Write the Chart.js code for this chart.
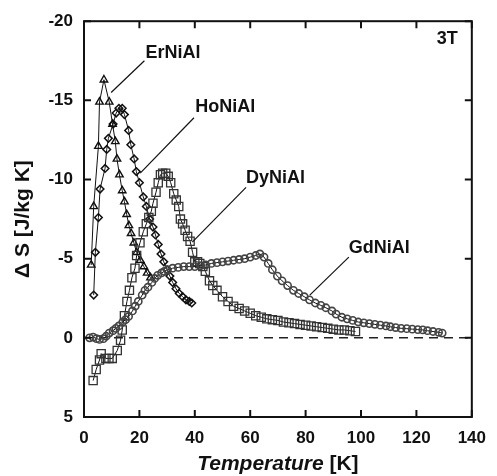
<!DOCTYPE html>
<html>
<head>
<meta charset="utf-8">
<script src="https://cdn.jsdelivr.net/npm/chart.js@4"></script>
<style>
  html, body { margin:0; padding:0; background:#fff; }
  #wrap { width:497px; height:476px; }
</style>
</head>
<body>
<div id="wrap"><canvas id="grafico" width="497" height="476"></canvas></div>
<script>
// ── Datos (T en K, ΔS en J/kg K) ───────────────────────────────────────────
const erT = [2.6, 3.5, 5.2, 5.6, 7.2, 9.1, 10.3, 11.3, 11.9, 12.8, 13.8, 14.6, 15.4, 16.2, 17.0, 18.0, 19.0, 20.3, 21.6, 22.8, 24.0];
const erS = [-4.6, -8.3, -12.1, -14.9, -16.3, -14.9, -13.5, -12.4, -11.3, -10.3, -9.3, -8.6, -7.8, -7.1, -6.6, -6.0, -5.4, -4.9, -4.5, -4.1, -3.8];

const hoT = [3.5, 4.1, 5.2, 5.8, 7.6, 8.2, 8.8, 10.5, 11.6, 12.6, 13.8, 14.6, 16.1, 16.9, 18.1, 18.9, 20.0, 21.4, 22.5, 23.7, 24.9, 25.8, 26.8, 27.8, 28.8, 30.0, 31.0, 32.0, 33.2, 34.4, 35.6, 36.8, 38.0, 38.9];
const hoS = [-2.7, -5.4, -7.6, -9.4, -10.7, -11.9, -12.6, -13.5, -14.2, -14.5, -14.5, -14.1, -13.1, -12.2, -11.3, -10.5, -9.8, -8.9, -8.3, -7.5, -7.0, -6.5, -5.9, -5.3, -4.8, -4.3, -3.9, -3.5, -3.1, -2.8, -2.6, -2.4, -2.3, -2.2];

const dyT = [3.3, 4.4, 5.6, 6.2, 7.9, 9.0, 10.2, 12.0, 13.2, 13.8, 14.6, 15.5, 16.4, 17.3, 18.4, 19.0, 20.2, 21.4, 22.5, 23.4, 24.3, 24.9, 26.0, 26.8, 27.6, 28.4, 29.5, 30.4, 31.3, 32.4, 33.3, 34.2, 34.8, 35.6, 36.5, 37.4, 38.3, 39.2, 40.0, 41.0, 41.8, 42.9, 43.8, 45.3, 46.5, 48.0, 50.0, 52.0, 54.0, 56.0, 58.0, 60.0, 62.0, 64.0, 66.0, 68.0, 70.0, 72.0, 74.0, 76.0, 78.0, 80.0, 82.0, 84.0, 86.0, 88.0, 90.0, 92.0, 94.0, 96.0, 98.0];
const dyS = [2.7, 2.0, 1.4, 1.0, 1.3, 1.3, 1.3, 0.8, 0.15, -0.5, -1.4, -2.3, -3.0, -3.8, -4.4, -5.2, -6.0, -6.7, -7.2, -7.6, -8.0, -8.5, -9.2, -9.8, -10.3, -10.4, -10.4, -10.2, -9.8, -9.1, -8.7, -8.3, -7.5, -7.2, -6.8, -6.4, -6.1, -5.4, -4.8, -4.8, -4.7, -4.5, -4.2, -3.6, -3.3, -3.0, -2.6, -2.3, -2.0, -1.85, -1.7, -1.55, -1.4, -1.3, -1.2, -1.15, -1.1, -1.0, -0.95, -0.9, -0.85, -0.8, -0.75, -0.7, -0.65, -0.6, -0.55, -0.5, -0.5, -0.45, -0.4];

const gdT = [2.0, 3.3, 4.5, 5.6, 7.0, 8.0, 9.1, 10.5, 11.5, 12.6, 14.0, 15.0, 16.1, 17.5, 18.5, 19.6, 21.0, 22.0, 23.1, 24.5, 25.5, 26.6, 28.0, 29.0, 30.1, 32.0, 34.0, 36.0, 38.0, 40.0, 42.0, 44.0, 46.0, 48.0, 50.0, 52.0, 54.0, 56.0, 58.0, 60.0, 62.0, 63.5, 65.0, 66.5, 68.0, 69.8, 71.5, 73.5, 75.6, 77.5, 79.5, 81.4, 83.5, 85.5, 87.3, 89.5, 91.0, 93.1, 95.0, 97.0, 99.0, 101.0, 103.0, 105.0, 107.0, 109.0, 110.6, 112.5, 114.5, 116.5, 118.5, 120.5, 122.3, 124.0, 126.0, 128.0, 129.3];
const gdS = [0.0, -0.05, 0.05, 0.1, 0.05, -0.1, -0.3, -0.45, -0.6, -0.75, -1.0, -1.15, -1.35, -1.7, -2.0, -2.3, -2.7, -3.0, -3.2, -3.5, -3.75, -3.95, -4.1, -4.2, -4.3, -4.4, -4.45, -4.5, -4.5, -4.5, -4.55, -4.6, -4.7, -4.75, -4.8, -4.85, -4.9, -4.95, -5.0, -5.1, -5.2, -5.3, -5.1, -4.7, -4.3, -3.9, -3.6, -3.3, -3.0, -2.8, -2.6, -2.4, -2.2, -2.05, -1.9, -1.7, -1.5, -1.3, -1.2, -1.1, -1.0, -0.95, -0.9, -0.85, -0.8, -0.75, -0.7, -0.65, -0.6, -0.58, -0.55, -0.52, -0.5, -0.45, -0.4, -0.35, -0.3];

const xTicks = [0, 20, 40, 60, 80, 100, 120, 140];
const yTicks = [-20, -15, -10, -5, 0, 5];

// etiquetas de cada curva: posición del texto y de la línea guía (en unidades de datos)
const etiquetas = [
  { texto:"ErNiAl", x:22.2, y:-18.0, desde:[21.8,-17.5], hasta:[9.8,-15.5] },
  { texto:"HoNiAl", x:40.2, y:-14.6, desde:[39.7,-13.9], hasta:[20.3,-10.4] },
  { texto:"DyNiAl", x:58.5, y:-10.1, desde:[58.5,-9.5],  hasta:[39.1,-6.05] },
  { texto:"GdNiAl", x:95.6, y:-5.7,  desde:[95.6,-5.1],  hasta:[81.5,-2.7] }
];

const FUENTE = "'Liberation Sans', Arial, sans-serif";
const puntos = (ts, ss) => ts.map((t, i) => ({ x:t, y:ss[i] }));

// ── Marco, marcas interiores, línea de cero y textos ───────────────────────
const decoracion = {
  id: "decoracion",
  beforeDatasetsDraw(chart) {
    const { ctx, chartArea:a, scales:{ y } } = chart;
    const y0 = y.getPixelForValue(0);
    ctx.save();
    ctx.strokeStyle = "#222"; ctx.lineWidth = 1.5;
    ctx.setLineDash([9, 6]);
    ctx.beginPath(); ctx.moveTo(a.left, y0); ctx.lineTo(a.right, y0); ctx.stroke();
    ctx.restore();
  },
  afterDraw(chart) {
    const { ctx, chartArea:a, scales:{ x, y } } = chart;
    ctx.save();
    ctx.strokeStyle = "#111"; ctx.lineWidth = 2;
    ctx.strokeRect(a.left, a.top, a.right - a.left, a.bottom - a.top);
    const L = 7;
    ctx.beginPath();
    xTicks.forEach(v => {
      const px = x.getPixelForValue(v);
      ctx.moveTo(px, a.bottom); ctx.lineTo(px, a.bottom - L);
      ctx.moveTo(px, a.top);    ctx.lineTo(px, a.top + L);
    });
    yTicks.forEach(v => {
      const py = y.getPixelForValue(v);
      ctx.moveTo(a.left, py);  ctx.lineTo(a.left + L, py);
      ctx.moveTo(a.right, py); ctx.lineTo(a.right - L, py);
    });
    ctx.stroke();

    // etiquetas de las curvas
    ctx.fillStyle = "#111"; ctx.lineWidth = 1.2;
    ctx.font = `bold 18px ${FUENTE}`;
    ctx.textBaseline = "middle"; ctx.textAlign = "left";
    etiquetas.forEach(e => {
      ctx.fillText(e.texto, x.getPixelForValue(e.x), y.getPixelForValue(e.y));
      ctx.beginPath();
      ctx.moveTo(x.getPixelForValue(e.desde[0]), y.getPixelForValue(e.desde[1]));
      ctx.lineTo(x.getPixelForValue(e.hasta[0]), y.getPixelForValue(e.hasta[1]));
      ctx.stroke();
    });
    ctx.fillText("3T", x.getPixelForValue(127.3), y.getPixelForValue(-18.9));

    // título eje x: "Temperature" en cursiva + " [K]"
    ctx.textBaseline = "alphabetic";
    const t1 = "Temperature", t2 = " [K]";
    ctx.font = `italic bold 21px ${FUENTE}`;
    const w1 = ctx.measureText(t1).width;
    ctx.font = `bold 21px ${FUENTE}`;
    const w2 = ctx.measureText(t2).width;
    const sx = (a.left + a.right) / 2 - (w1 + w2) / 2;
    ctx.font = `italic bold 21px ${FUENTE}`;
    ctx.fillText(t1, sx, 470);
    ctx.font = `bold 21px ${FUENTE}`;
    ctx.fillText(t2, sx + w1, 470);

    // título eje y
    ctx.font = `bold 21px ${FUENTE}`;
    ctx.translate(29, (a.top + a.bottom) / 2);
    ctx.rotate(-Math.PI / 2);
    ctx.textAlign = "center";
    ctx.fillText("\u0394 S [J/kg K]", 0, 0);
    ctx.restore();
  }
};

const serie = (label, ts, ss, estilo, radio, color, grosor) => ({
  label, data: puntos(ts, ss),
  showLine: true, borderColor: "#111", borderWidth: 1,
  pointStyle: estilo, pointRadius: radio, pointBorderColor: color,
  pointBackgroundColor: "rgba(0,0,0,0)", pointBorderWidth: grosor
});

new Chart(document.getElementById("grafico"), {
  type: "scatter",
  data: {
    datasets: [
      serie("GdNiAl", gdT, gdS, "circle",   3.6, "#444", 1.6),
      serie("DyNiAl", dyT, dyS, "rect",     5.8, "#333", 1.3),
      serie("HoNiAl", hoT, hoS, "rectRot",  3.8, "#111", 1.5),
      serie("ErNiAl", erT, erS, "triangle", 4.3, "#111", 1.4)
    ]
  },
  options: {
    responsive: false, animation: false, devicePixelRatio: 1,
    layout: { padding: { top:21, right:16, left:0, bottom:0 } },
    scales: {
      x: {
        type: "linear", min: 0, max: 140,
        grid: { display:false, drawTicks:false }, border: { display:false },
        ticks: { stepSize:20, color:"#111", font:{ family:FUENTE, size:17, weight:"bold" }, padding:11, maxRotation:0 },
        afterFit: s => { s.height = 59; }
      },
      y: {
        type: "linear", min: -20, max: 5, reverse: true,
        grid: { display:false, drawTicks:false }, border: { display:false },
        ticks: { stepSize:5, color:"#111", font:{ family:FUENTE, size:17, weight:"bold" }, padding:11 },
        afterFit: s => { s.width = 84; }
      }
    },
    plugins: { legend: { display:false }, tooltip: { enabled:false } }
  },
  plugins: [decoracion]
});
</script>
</body>
</html>
